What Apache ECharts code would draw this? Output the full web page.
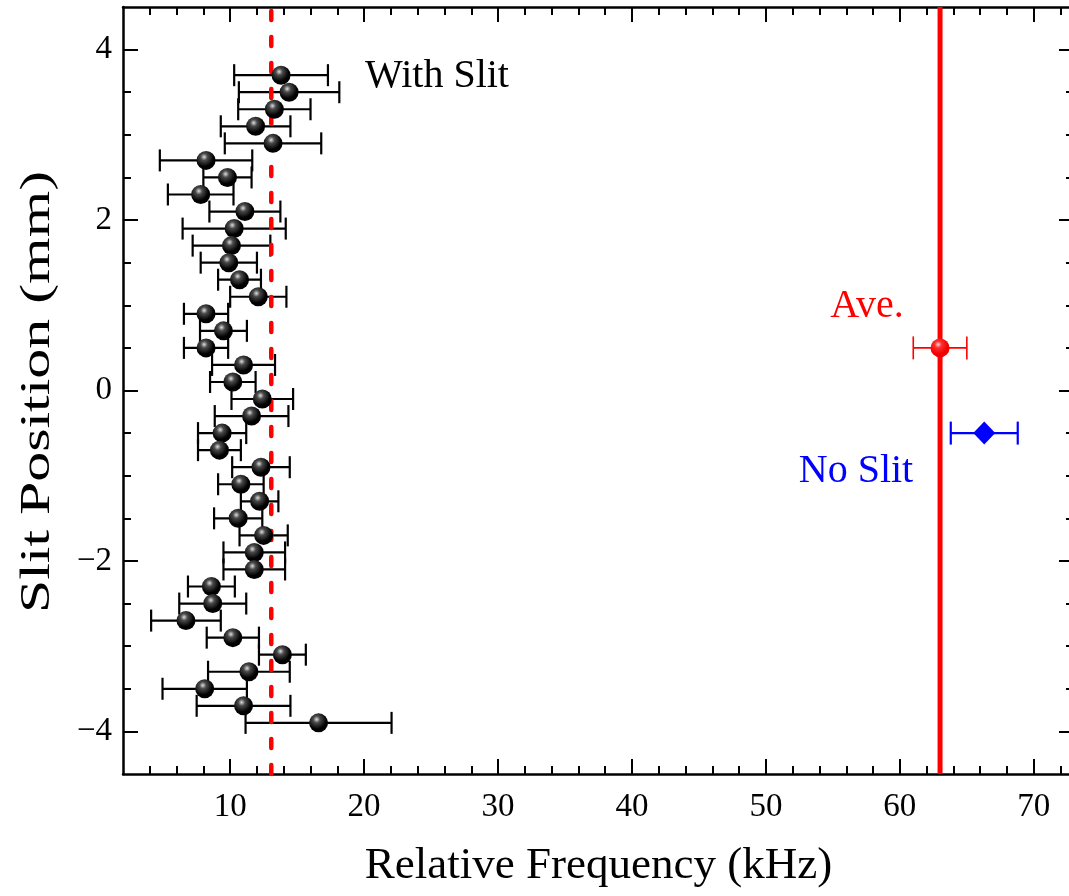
<!DOCTYPE html>
<html>
<head>
<meta charset="utf-8">
<script src="https://cdn.jsdelivr.net/npm/echarts@6/dist/echarts.min.js"></script>
<style>
html,body{margin:0;padding:0;background:#fff;}
#chart{width:1069px;height:896px;}
</style>
</head>
<body>
<div id="chart"></div>
<script>
// ---- Data ----
const slitPos = [3.7, 3.5, 3.3, 3.1, 2.9, 2.7, 2.5, 2.3, 2.1, 1.9, 1.7, 1.5, 1.3, 1.1, 0.9, 0.7, 0.5, 0.3, 0.1,
  -0.1, -0.3, -0.5, -0.7, -0.9, -1.1, -1.3, -1.5, -1.7, -1.9, -2.1, -2.3, -2.5, -2.7, -2.9, -3.1, -3.3, -3.5, -3.7, -3.9];
const slitFreq = [13.8, 14.4, 13.3, 11.9, 13.2, 8.2, 9.8, 7.8, 11.1, 10.3, 10.1, 9.9, 10.7, 12.1, 8.2, 9.5, 8.2, 11.0, 10.2,
  12.4, 11.6, 9.4, 9.2, 12.3, 10.8, 12.2, 10.6, 12.5, 11.8, 11.8, 8.6, 8.7, 6.7, 10.2, 13.9, 11.4, 8.1, 11.0, 16.6];
const slitErr = [3.5, 3.75, 2.7, 2.6, 3.6, 3.45, 1.8, 2.45, 2.65, 3.85, 2.9, 2.1, 1.6, 2.1, 1.65, 1.75, 1.65, 2.35, 1.7,
  2.3, 2.75, 1.8, 1.6, 2.15, 1.7, 1.4, 1.8, 1.8, 2.3, 2.3, 1.75, 2.5, 2.6, 1.95, 1.75, 3.05, 3.15, 3.5, 5.45];
const avePos = [0.5];
const aveFreq = [63.0];
const aveErr = [2.0];
const noSlitPos = [-0.5];
const noSlitFreq = [66.3];
const noSlitErr = [2.5];
const slitMeanLine = 13.07;   // dashed red line
const aveLine = 63.0;         // solid red line

const xMin = 2, xMax = 73, yMin = -4.5, yMax = 4.5;
const xMajor = [10, 20, 30, 40, 50, 60, 70];
const xMinor = [4, 6, 8, 12, 14, 16, 18, 22, 24, 26, 28, 32, 34, 36, 38, 42, 44, 46, 48, 52, 54, 56, 58, 62, 64, 66, 68, 72];
const yMajor = [-4, -2, 0, 2, 4];
const yMinor = [-3.5, -3, -2.5, -1.5, -1, -0.5, 0.5, 1, 1.5, 2.5, 3, 3.5];

const xTitle = 'Relative Frequency (kHz)';
const yTitle = 'Slit Position (mm)';
const labelWith = 'With Slit';
const labelAve = 'Ave.';
const labelNo = 'No Slit';

// ---- Chart ----
const FONT = '"Liberation Serif", "Times New Roman", serif';
const chart = echarts.init(document.getElementById('chart'), null, {renderer: 'canvas'});

function fmtNum(v) { return v < 0 ? '\u2212' + Math.abs(v) : String(v); }

function baseAxis(extra) {
  return Object.assign({
    type: 'value', gridIndex: 0,
    splitLine: {show: false},
    axisLine: {show: false, onZero: false},
    axisLabel: {show: false},
    axisTick: {show: false}
  }, extra);
}

const grid = {left: 123, top: 7, width: 951, height: 767, containLabel: false, outerBoundsMode: 'none'};

const xAxes = [
  baseAxis({min: xMin, max: xMax, position: 'bottom',
    axisLine: {show: true, onZero: false, lineStyle: {color: '#000', width: 2.5}},
    axisTick: {show: true, inside: true, length: 15, customValues: xMajor, lineStyle: {color: '#000', width: 2}},
    axisLabel: {show: true, customValues: xMajor, formatter: fmtNum, color: '#000', fontSize: 33, fontFamily: FONT, margin: 17},
    name: xTitle, nameLocation: 'middle', nameGap: 70,
    nameTextStyle: {color: '#000', fontSize: 45, fontFamily: FONT}
  }),
  baseAxis({min: xMin, max: xMax, position: 'bottom',
    axisTick: {show: true, inside: true, length: 8, customValues: xMinor, lineStyle: {color: '#000', width: 2}}}),
  baseAxis({min: xMin, max: xMax, position: 'top',
    axisLine: {show: true, onZero: false, lineStyle: {color: '#000', width: 2.5}},
    axisTick: {show: true, inside: true, length: 15, customValues: xMajor, lineStyle: {color: '#000', width: 2}}}),
  baseAxis({min: xMin, max: xMax, position: 'top',
    axisTick: {show: true, inside: true, length: 8, customValues: xMinor, lineStyle: {color: '#000', width: 2}}})
];

const yAxes = [
  baseAxis({min: yMin, max: yMax, position: 'left',
    axisLine: {show: true, onZero: false, lineStyle: {color: '#000', width: 2.5}},
    axisTick: {show: true, inside: true, length: 15, customValues: yMajor, lineStyle: {color: '#000', width: 2}},
    axisLabel: {show: true, customValues: yMajor, formatter: fmtNum, color: '#000', fontSize: 33, fontFamily: FONT, margin: 11}
  }),
  baseAxis({min: yMin, max: yMax, position: 'left',
    axisTick: {show: true, inside: true, length: 8, customValues: yMinor, lineStyle: {color: '#000', width: 2}}}),
  baseAxis({min: yMin, max: yMax, position: 'right',
    axisLine: {show: false, onZero: false},
    axisTick: {show: true, inside: true, length: 15, customValues: yMajor, lineStyle: {color: '#000', width: 2}}}),
  baseAxis({min: yMin, max: yMax, position: 'right',
    axisTick: {show: true, inside: true, length: 8, customValues: yMinor, lineStyle: {color: '#000', width: 2}}})
];

function errBarSeries(name, pos, freq, err, color, lw, cap, z) {
  return {
    type: 'custom', name: name, xAxisIndex: 0, yAxisIndex: 0, z: z, silent: true,
    data: pos.map((p, i) => [freq[i], err[i], p]),
    encode: {x: 0, y: 2},
    renderItem: function (params, api) {
      const x = api.value(0), e = api.value(1), y = api.value(2);
      const a = api.coord([x - e, y]);
      const b = api.coord([x + e, y]);
      const h = cap / 2;
      const st = {stroke: color, lineWidth: lw};
      return {
        type: 'group',
        children: [
          {type: 'line', shape: {x1: a[0], y1: a[1], x2: b[0], y2: b[1]}, style: st},
          {type: 'line', shape: {x1: a[0], y1: a[1] - h, x2: a[0], y2: a[1] + h}, style: st},
          {type: 'line', shape: {x1: b[0], y1: b[1] - h, x2: b[0], y2: b[1] + h}, style: st}
        ]
      };
    }
  };
}

function sphere(hi, mid, dark) {
  return {
    type: 'radial', x: 0.4, y: 0.32, r: 0.72,
    colorStops: [
      {offset: 0, color: hi},
      {offset: 0.25, color: mid},
      {offset: 0.7, color: dark},
      {offset: 1, color: dark}
    ]
  };
}

const option = {
  backgroundColor: '#fff',
  animation: false,
  grid: grid,
  xAxis: xAxes,
  yAxis: yAxes,
  series: [
    errBarSeries('slitErr', slitPos, slitFreq, slitErr, '#000', 2.2, 22, 2),
    errBarSeries('aveErr', avePos, aveFreq, aveErr, '#ff0000', 1.6, 23, 2),
    errBarSeries('noSlitErr', noSlitPos, noSlitFreq, noSlitErr, '#0000ff', 2.2, 23, 2),
    {
      type: 'line', name: 'meanDashed', xAxisIndex: 0, yAxisIndex: 0, z: 3, silent: true,
      symbol: 'none', data: [[slitMeanLine, yMin], [slitMeanLine, yMax]],
      lineStyle: {color: '#ff0000', width: 4.5, type: [9, 17], cap: 'round'}
    },
    {
      type: 'line', name: 'aveLine', xAxisIndex: 0, yAxisIndex: 0, z: 3, silent: true,
      symbol: 'none', data: [[aveLine, yMin], [aveLine, yMax]],
      lineStyle: {color: '#ff0000', width: 5}
    },
    {
      type: 'scatter', name: 'With Slit', xAxisIndex: 0, yAxisIndex: 0, z: 4, silent: true,
      symbol: 'circle', symbolSize: 19,
      data: slitPos.map((p, i) => [slitFreq[i], p]),
      itemStyle: {color: sphere('#dcdcdc', '#4a4a4a', '#000'), opacity: 1}
    },
    {
      type: 'scatter', name: 'Ave', xAxisIndex: 0, yAxisIndex: 0, z: 4, silent: true,
      symbol: 'circle', symbolSize: 19,
      data: avePos.map((p, i) => [aveFreq[i], p]),
      itemStyle: {color: sphere('#ffd0d0', '#ff3030', '#f00000'), opacity: 1}
    },
    {
      type: 'scatter', name: 'No Slit', xAxisIndex: 0, yAxisIndex: 0, z: 4, silent: true,
      symbol: 'diamond', symbolSize: [22, 23],
      data: noSlitPos.map((p, i) => [noSlitFreq[i], p]),
      itemStyle: {color: '#0000ff', opacity: 1}
    }
  ],
  graphic: [
    {
      type: 'text', x: 38, y: 392, rotation: Math.PI / 2, scaleX: 1.36, scaleY: 0.98, silent: true,
      style: {text: yTitle, font: '44px ' + FONT, fill: '#000', align: 'center', verticalAlign: 'middle'}
    },
    {
      type: 'text', x: 437, y: 76, silent: true,
      style: {text: labelWith, font: '40px ' + FONT, fill: '#000', align: 'center', verticalAlign: 'middle'}
    },
    {
      type: 'text', x: 867, y: 306, silent: true,
      style: {text: labelAve, font: '40px ' + FONT, fill: '#ff0000', align: 'center', verticalAlign: 'middle'}
    },
    {
      type: 'text', x: 856, y: 471, silent: true,
      style: {text: labelNo, font: '40px ' + FONT, fill: '#0000ff', align: 'center', verticalAlign: 'middle'}
    }
  ]
};

chart.setOption(option);
</script>
</body>
</html>
